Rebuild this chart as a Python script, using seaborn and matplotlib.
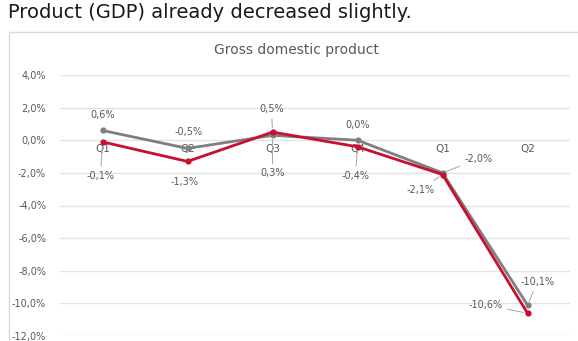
import matplotlib
matplotlib.use("Agg")
import matplotlib.pyplot as plt
from matplotlib.patches import Rectangle
from matplotlib.ticker import FuncFormatter
import seaborn as sns
import pandas as pd

quarters = ["Q1", "Q2", "Q3", "Q4", "Q1", "Q2"]
series_grey = [0.6, -0.5, 0.3, 0.0, -2.0, -10.1]
series_red = [-0.1, -1.3, 0.5, -0.4, -2.1, -10.6]
y_ticks = [4, 2, 0, -2, -4, -6, -8, -10, -12]

GREY = "#7F7F7F"
RED = "#C8102E"
TEXT = "#595959"

sns.set_theme(style="white")
narrow = ["Liberation Sans Narrow", "DejaVu Sans"]
plt.rcParams["font.family"] = narrow

W, H = 578, 341
fig = plt.figure(figsize=(W / 100, H / 100), dpi=100)

def px_rect(x0, y0, x1, y1):
    return [x0 / W, 1 - y1 / H, (x1 - x0) / W, (y1 - y0) / H]

# heading line of the slide
fig.text(8 / W, 1 - 18 / H, "Product (GDP) already decreased slightly.",
         fontsize=14.0, color="#1a1a1a", family="DejaVu Sans",
         ha="left", va="baseline")

# chart frame
fig.patches.append(Rectangle((9 / W, -0.05), 1.0, 1 - 32 / H + 0.05,
                             transform=fig.transFigure, fill=False,
                             edgecolor="#D9D9D9", linewidth=1.0))
fig.text(296 / W, 1 - 50 / H, "Gross domestic product", fontsize=10,
         color=TEXT, family="DejaVu Sans", ha="center", va="center")

ax = fig.add_axes(px_rect(60, 75, 570, 336))
positions = list(range(len(quarters)))
df = pd.DataFrame({
    "pos": positions * 2,
    "value": series_grey + series_red,
    "series": ["grey"] * len(quarters) + ["red"] * len(quarters),
})
sns.lineplot(data=df, x="pos", y="value", hue="series",
             palette={"grey": GREY, "red": RED}, marker="o",
             markersize=4.5, markeredgewidth=0, linewidth=2.0,
             legend=False, ax=ax, zorder=3)

ax.set_xlim(-0.5, len(quarters) - 0.5)
ax.set_ylim(-12, 4)
ax.set_yticks(y_ticks)
ax.yaxis.set_major_formatter(FuncFormatter(
    lambda v, _: f"{v:.1f}%".replace(".", ",").replace("-0,0", "0,0")))
ax.grid(axis="y", color="#E3E3E3", linewidth=1.0)
ax.grid(axis="x", visible=False)
for side in ["top", "right", "left"]:
    ax.spines[side].set_visible(False)
ax.spines["bottom"].set_position(("data", 0))
ax.spines["bottom"].set_visible(False)
ax.set_xticks(positions)
ax.set_xticklabels(quarters)
ax.tick_params(axis="x", length=0, pad=3, labelsize=7.5, labelcolor=TEXT)
ax.tick_params(axis="y", length=0, pad=10, labelsize=7, labelcolor=TEXT)
ax.set_xlabel("")
ax.set_ylabel("")
ax.patch.set_alpha(0)

def label(i, values, dx, dy, leader=False):
    v = values[i]
    txt = f"{v:.1f}%".replace(".", ",")
    props = dict(arrowstyle="-", color="#A6A6A6", linewidth=0.7,
                 shrinkA=1, shrinkB=3) if leader else None
    ax.annotate(txt, xy=(i, v), xytext=(dx, dy), textcoords="offset pixels",
                ha="center", va="center", fontsize=7, color=TEXT,
                arrowprops=props, zorder=4)

# grey series labels
label(0, series_grey, 0, 15)
label(1, series_grey, 1, 16)
label(2, series_grey, 0, -38, leader=True)
label(3, series_grey, 0, 15)
label(4, series_grey, 36, 14, leader=True)
label(5, series_grey, 10, 23, leader=True)
# red series labels
label(0, series_red, -2, -34, leader=True)
label(1, series_red, -3, -21)
label(2, series_red, -1, 23, leader=True)
label(3, series_red, -2, -29, leader=True)
label(4, series_red, -22, -15, leader=True)
label(5, series_red, -42, 8, leader=True)

fig.savefig("out.png", dpi=100)
